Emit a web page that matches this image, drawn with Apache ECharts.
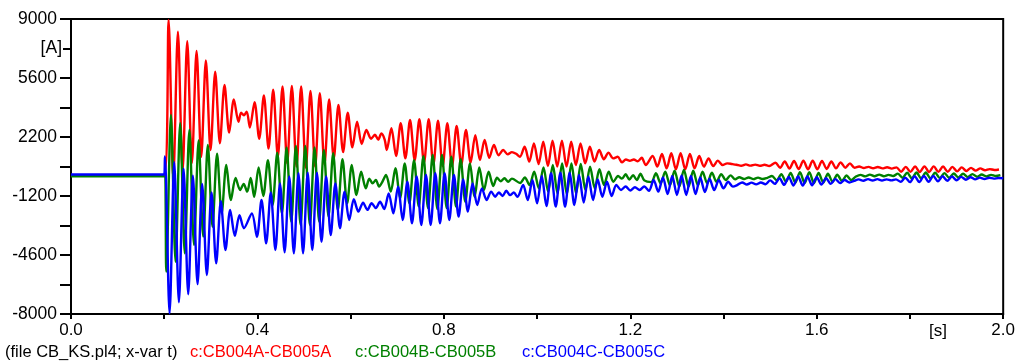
<!DOCTYPE html>
<html>
<head>
<meta charset="utf-8">
<script src="https://cdn.jsdelivr.net/npm/echarts@6/dist/echarts.min.js"></script>
<style>
  html, body { margin: 0; padding: 0; background: #ffffff; }
  #chart { width: 1018px; height: 361px; }
</style>
</head>
<body>
<div id="chart"></div>
<script>
// Axis ranges and tick steps
const timeRange = [0, 2.0];
const timeStep = 0.4;
const currentRange = [-8000, 9000];
const currentStep = 3400;

// Captions
const fileCaption = '(file CB_KS.pl4; x-var t)';
const seriesNames = ['c:CB004A-CB005A', 'c:CB004B-CB005B', 'c:CB004C-CB005C'];
const seriesColors = ['#ff0000', '#008000', '#0000ff'];

// Branch currents [A]. Each run: [start time in ms, step in ms, successive turning-point values]
const phaseA = [
  [0, 200, [0, 0]],
  [209.4, 10, [8950, -200, 8270, 250, 7720, 700, 7160, 1060, 6610, 1450, 5960, 1840, 5200, 2450, 4370, 3080]],
  [365, 6, [3600, 3450, 3660]],
  [383.8, 10, [2750, 4210, 2100, 4600, 1530, 4930, 1060, 5120, 690, 5140, 490, 5120, 430, 4860, 490, 4730, 620, 4370, 950, 4040, 1330, 3600, 1600, 3080, 1800, 2600, 2100]],
  [652, 7, [2330, 2050, 2400, 2050]],
  [677.4, 10, [1450, 2700, 1100, 2990, 970, 3180, 850, 3220, 720, 3220, 600, 3140, 520, 2990, 520, 2830, 600, 2600, 720, 2310, 870, 2030, 1000, 1740, 1150, 1450]],
  [937, 9, [1200, 1330, 1230]],
  [963.2, 10, [1060, 1640, 780, 1830, 640, 1930, 530, 1990, 490, 1990, 490, 1930, 590, 1830, 680, 1640, 780, 1450, 920, 1300, 970, 1060]],
  [1182, 8.5, [740, 900, 830, 900, 800, 1000, 590]],
  [1247.9, 10, [1105, 490, 1220, 394, 1260, 336, 1260, 336, 1220, 394, 1105, 490, 970, 528, 836, 586, 682, 644]],
  [1428, 10, [600, 540, 620, 550, 610, 540, 600, 530]],
  [1511.3, 10, [720, 430, 790, 380, 820, 350, 836, 340, 836, 340, 820, 360, 790, 390, 740, 430, 680]],
  [1681, 10, [430, 500, 410, 480, 400, 470, 390, 460, 380, 450]],
  [1781, 10, [200, 480, 190, 500, 180, 510, 180, 510, 190, 500, 200, 480, 220, 450, 240, 420, 260, 390, 280, 350, 300, 330]]
];

const phaseB = [
  [0, 200, [-60, -60]],
  [204.5, 9.9, [-5560, 3470, -4990, 2990, -4500, 2600, -4020, 2000, -3540, 1740, -2970, 1240, -2200, 590, -1430, -160, -855]],
  [370.5, 7.5, [-500, -950, -160, -1240]],
  [402.5, 10, [450, -1200, 870, -1720, 1300, -2200, 1600, -2680, 1680, -2870, 1680, -2870, 1600, -2680, 1450, -2390, 1260, -2010, 920, -1620, 590, -1140, 200, -760]],
  [640, 7, [-200, -470, -280, -660, -380]],
  [676, 10, [10, -950, 400, -1330, 680, -1620, 870, -1800, 1100, -1900, 1160, -1950, 1160, -1900, 1060, -1810, 920, -1530, 680, -1240, 450, -855, 200, -620]],
  [914, 8, [-150, -350, -180, -380, -200]],
  [963.7, 10, [-450, -130, -570, 200, -760, 450, -950, 590, -1050, 680, -1090, 680, -1050, 640, -855, 490, -760, 340, -570, 200, -380, -50]],
  [1182, 8, [-200, 50, -250, 0, -280, 80, -300]],
  [1245, 10, [-400, 110, -470, 200, -590, 260, -660, 300, -660, 260, -590, 200, -470, 140, -380, 60, -280, -10, -240]],
  [1434, 10, [-120, -220, -130, -230, -140, -220, -150]],
  [1504, 10, [-50, -300, 60, -380, 130, -430, 170, -450, 170, -450, 130, -420, 80, -380, 30, -330, -20, -280]],
  [1684, 10, [-80, 20, -70, 30, -60, 30, -60, 20, -50]],
  [1774, 10, [90, -150, 140, -180, 150, -190, 150, -190, 140, -170, 120, -150, 100, -130, 80, -110, 60, -90, 40, -70, 20, -50, 0]]
];

const phaseC = [
  [0, 200, [40, 40]],
  [201.5, 10, [1080, -7960, 750, -7320, 380, -6860, -30, -6280, -500, -5750, -1000, -5080, -1500, -4310, -2000, -3500, -2300]],
  [371, 17, [-3060, -2200]],
  [398.9, 9.9, [-3550, -1430, -3930, -1000, -4310, -470, -4440, -70, -4500, 120, -4500, 140, -4310, 140, -3840, -70, -3450, -470, -3060, -950, -2580, -1390, -2100, -1580]],
  [636, 9, [-2000, -1620, -1900, -1530, -1950]],
  [681.6, 10, [-1050, -2200, -660, -2580, -380, -2770, -70, -2870, 10, -2870, 110, -2770, 110, -2580, 10, -2390, -240, -2100, -470, -1720, -760, -1430, -950]],
  [910, 8, [-1240, -1000, -1200, -900, -1150, -1000, -1250]],
  [970, 10, [-570, -1430, -280, -1620, -50, -1780, 110, -1810, 140, -1810, 140, -1720, 10, -1580, -70, -1430, -240, -1240, -380, -1200, -570]],
  [1180, 10, [-850, -650, -880, -700, -850, -650, -900]],
  [1250, 10, [-280, -950, -130, -1090, -50, -1140, -10, -1140, -50, -1090, -130, -970, -200, -855, -280, -760, -380, -660]],
  [1430, 10, [-560, -420, -540, -430, -530, -420, -520]],
  [1500, 10, [-300, -500, -170, -560, -100, -600, -70, -600, -70, -580, -110, -540, -170, -500, -230, -460, -280, -420]],
  [1680, 10, [-330, -240, -320, -230, -310, -230, -310, -240, -300, -240]],
  [1780, 10, [-380, -150, -400, -60, -400, -40, -380, -40, -350, -60, -320, -80, -290, -100, -260, -120, -240, -140, -220, -150, -200, -160, -180]]
];

// Turn the runs into [t (s), i (A)] pairs
function toPoints(runs) {
  const pts = [];
  runs.forEach(([start, step, values]) => {
    values.forEach((v, k) => pts.push([(start + k * step) / 1000, v]));
  });
  pts.sort((a, b) => a[0] - b[0]);
  return pts;
}

const FONT = '"Liberation Sans", Arial, sans-serif';
const chart = echarts.init(document.getElementById('chart'), null, { renderer: 'canvas' });

const axisLineStyle = { color: '#000', width: 2 };

chart.setOption({
  animation: false,
  backgroundColor: '#ffffff',
  grid: {
    left: 71, right: 11, top: 19, bottom: 47,
    show: true, borderColor: '#000', borderWidth: 2, backgroundColor: 'transparent'
  },
  xAxis: {
    type: 'value',
    min: timeRange[0], max: timeRange[1], interval: timeStep,
    axisLine: { show: true, onZero: false, lineStyle: axisLineStyle },
    axisTick: { show: true, inside: false, length: 5, lineStyle: axisLineStyle },
    minorTick: { show: true, splitNumber: 2, length: 5, lineStyle: axisLineStyle },
    splitLine: { show: false },
    minorSplitLine: { show: false },
    axisLabel: {
      color: '#000', fontSize: 17, fontFamily: FONT, margin: 8,
      showMinLabel: true, showMaxLabel: true,
      formatter: v => v.toFixed(1)
    }
  },
  yAxis: {
    type: 'value',
    min: currentRange[0], max: currentRange[1], interval: currentStep,
    axisLine: { show: true, onZero: false, lineStyle: axisLineStyle },
    axisTick: { show: true, inside: false, length: 11, lineStyle: axisLineStyle },
    minorTick: { show: true, splitNumber: 2, length: 11, lineStyle: axisLineStyle },
    splitLine: { show: false },
    minorSplitLine: { show: false },
    axisLabel: {
      color: '#000', fontSize: 17.5, fontFamily: FONT, margin: 14,
      showMinLabel: true, showMaxLabel: true,
      formatter: v => String(Math.round(v))
    }
  },
  series: [phaseA, phaseB, phaseC].map((runs, i) => ({
    name: seriesNames[i],
    type: 'line',
    data: toPoints(runs),
    showSymbol: false,
    symbol: 'none',
    smooth: 0.3,
    clip: true,
    sampling: null,
    lineStyle: { color: seriesColors[i], width: 2.4 },
    emphasis: { disabled: true }
  }))
});

// Unit captions placed from the axis scales, plus the caption row underneath
const aPos = chart.convertToPixel({ yAxisIndex: 0 }, currentRange[1] - currentStep / 2);
const sPos = chart.convertToPixel({ xAxisIndex: 0 }, 1.86);
const xLabelY = chart.convertToPixel({ yAxisIndex: 0 }, currentRange[0]) + 17;

const captionX = [5, 190, 355, 522];
const captionTexts = [fileCaption].concat(seriesNames);
const captionColors = ['#000'].concat(seriesColors);

chart.setOption({
  graphic: [
    {
      type: 'text',
      x: 63, y: aPos, z: 10,
      style: {
        text: '[A]', fill: '#000', font: '17.5px ' + FONT,
        align: 'right', verticalAlign: 'middle',
        backgroundColor: '#fff', padding: [0, 1, 0, 0]
      }
    },
    {
      type: 'text',
      x: sPos, y: xLabelY, z: 10,
      style: { text: '[s]', fill: '#000', font: '17px ' + FONT, align: 'center', verticalAlign: 'middle' }
    }
  ].concat(captionTexts.map((t, i) => ({
    type: 'text',
    x: captionX[i], y: 352, z: 10,
    style: { text: t, fill: captionColors[i], font: '16.5px ' + FONT, align: 'left', verticalAlign: 'middle' }
  })))
});
</script>
</body>
</html>
